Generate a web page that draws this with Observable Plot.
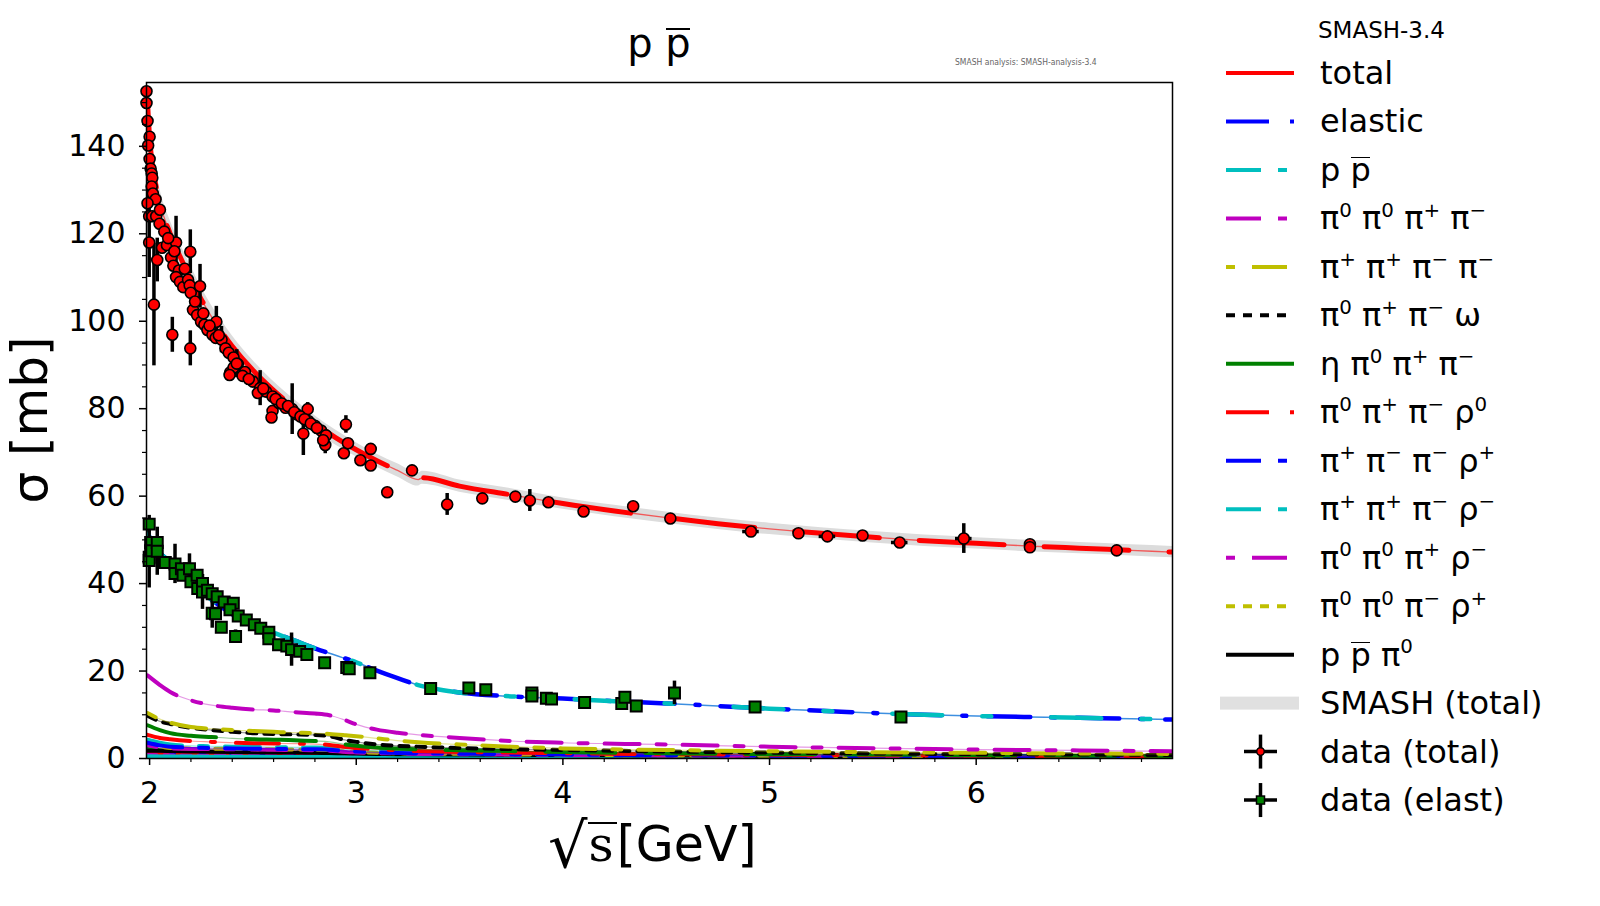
<!DOCTYPE html>
<html><head><meta charset="utf-8">
<script src="https://cdn.jsdelivr.net/npm/d3@7"></script>
<script src="https://cdn.jsdelivr.net/npm/@observablehq/plot@0.6"></script>
<style>
body{margin:0;background:#fff;font-family:"DejaVu Sans",sans-serif;}
#wrap{position:relative;width:1600px;height:906px;overflow:hidden;background:#fff}
#plot{position:absolute;left:0;top:0}
.abs{position:absolute;white-space:nowrap;color:#000;font-family:"DejaVu Sans",sans-serif}
sup{font-size:62%;vertical-align:0;position:relative;top:-0.62em;line-height:0}
.ov{position:relative}
.ov::before{content:"";position:absolute;left:0.02em;right:0.02em;top:0.2em;border-top:0.06em solid #000}
.leg{position:absolute;left:1320px;height:40px;line-height:40px;font-size:32px;white-space:nowrap}
</style></head><body><div id="wrap"><div id="plot"></div></div>
<script>
// ---------- tick values ----------
const xTicks = [2, 3, 4, 5, 6];
const xMinor = [2.2,2.4,2.6,2.8,3.2,3.4,3.6,3.8,4.2,4.4,4.6,4.8,5.2,5.4,5.6,5.8,6.2,6.4,6.6,6.8];
const yTicks = [0, 20, 40, 60, 80, 100, 120, 140];
const yMinor = [5,10,15,25,30,35,45,50,55,65,70,75,85,90,95,105,110,115,125,130,135,145,150];

// ---------- SMASH total cross section + band ----------
const totalX = [1.99,2.0,2.02,2.05,2.1,2.15,2.2,2.25,2.3,2.35,2.4,2.5,2.6,2.7,2.8,2.9,3.0,3.1,3.2,3.3,3.32,3.5,3.75,4.0,4.25,4.5,4.75,5.0,5.25,5.5,5.75,6.0,6.25,6.5,6.75,6.95];
const totalY = [150,142,134,127,120,114.5,109.5,105,101,97.5,94.3,88.8,84.2,80.2,76.6,73.4,70.6,68.1,65.9,63.8,64.2,62.3,60.3,58.3,56.6,55.1,53.7,52.5,51.5,50.6,49.8,49.2,48.6,48.1,47.6,47.2];
const totalBandHalf = [4,4,3.5,3.2,3,3,3,2.8,2.6,2.5,2.4,2.2,2,1.9,1.8,1.7,1.6,1.5,1.5,1.5,1.5,1.4,1.4,1.3,1.3,1.3,1.3,1.3,1.3,1.3,1.3,1.3,1.3,1.3,1.3,1.3];

// ---------- SMASH elastic (= p pbar channel) ----------
const elasticX = [1.99,2.0,2.05,2.1,2.2,2.3,2.4,2.5,2.6,2.7,2.8,2.9,3.0,3.1,3.2,3.3,3.4,3.5,3.75,4.0,4.25,4.5,4.75,5.0,5.25,5.5,5.75,6.0,6.25,6.5,6.75,6.95];
const elasticY = [52,50.5,47,45,40.6,36.3,33,30.7,28.8,27,25.2,23.6,22,20.1,18.4,16.8,15.8,15.1,14.2,13.7,13.1,12.6,12.0,11.4,10.9,10.4,10.0,9.7,9.5,9.3,9.1,8.9];

// ---------- SMASH exclusive channels ----------
const chanX = [1.99,2.05,2.1,2.2,2.3,2.4,2.5,2.6,2.7,2.8,2.87,2.95,3.0,3.1,3.2,3.3,3.5,3.75,4.0,4.5,5.0,5.5,6.0,6.5,6.95];
const pi0pi0pipPim   = [19,16.8,15.2,13.3,12.2,11.6,11.2,11.0,10.6,10.3,9.9,8.7,7.8,6.6,5.9,5.4,4.7,4.0,3.6,3.2,2.7,2.35,2.05,1.85,1.65];
const pipPipPimPim   = [10.4,9.0,8.2,7.2,6.8,6.5,6.3,6.1,5.9,5.8,5.6,5.3,5.1,4.6,4.1,3.7,3.2,2.7,2.3,1.95,1.65,1.45,1.3,1.15,1.05];
const pi0PipPimOmega = [9.8,8.5,7.9,7.0,6.5,6.1,5.8,5.6,5.5,5.4,5.1,4.2,3.8,3.2,2.9,2.7,2.4,2.15,1.95,1.6,1.35,1.15,1.0,0.9,0.8];
const etaPi0PipPim   = [7.6,6.5,5.8,5.2,4.9,4.6,4.4,4.3,4.2,4.0,3.8,3.2,2.9,2.5,2.3,2.1,1.9,1.7,1.5,1.2,1.0,0.9,0.75,0.65,0.6];
const pi0PipPimRho0  = [5.4,4.7,4.4,4.0,3.8,3.6,3.5,3.45,3.4,3.3,3.1,2.6,2.4,2.1,1.9,1.7,1.5,1.35,1.2,1.0,0.85,0.75,0.65,0.55,0.5];
const pipPimPimRhoP  = [3.6,3.0,2.7,2.5,2.4,2.3,2.25,2.2,2.15,2.1,2.0,1.7,1.6,1.4,1.25,1.15,1.1,1.0,0.9,0.75,0.65,0.55,0.5,0.45,0.4];
const pipPipPimRhoM  = [4.3,3.6,3.2,2.9,2.8,2.7,2.65,2.6,2.55,2.5,2.4,2.1,1.9,1.75,1.65,1.55,1.3,1.15,1.0,0.85,0.75,0.65,0.55,0.5,0.45];
const pi0Pi0PipRhoM  = [3.0,2.5,2.3,2.2,2.15,2.1,2.05,2.0,1.95,1.9,1.8,1.5,1.4,1.25,1.15,1.05,1.0,0.9,0.8,0.7,0.6,0.5,0.45,0.4,0.35];
const pi0Pi0PimRhoP  = [3.2,2.7,2.4,2.3,2.25,2.2,2.15,2.1,2.05,2.0,1.9,1.6,1.5,1.3,1.2,1.1,1.1,0.95,0.85,0.72,0.6,0.5,0.45,0.4,0.35];
const pPbarPi0       = [1.8,1.75,1.7,1.6,1.55,1.5,1.45,1.4,1.35,1.3,1.25,1.2,1.15,1.05,1.0,0.95,0.9,0.85,0.8,0.7,0.6,0.55,0.5,0.45,0.4];
// smaller channels not listed in the legend
const otherA = [2.2,1.9,1.8,1.7,1.6,1.55,1.5,1.45,1.4,1.35,1.3,1.1,1.0,0.9,0.85,0.8,0.75,0.7,0.65,0.55,0.5,0.45,0.4,0.35,0.3];
const otherB = [1.5,1.3,1.25,1.2,1.15,1.1,1.05,1.0,1.0,0.95,0.9,0.8,0.75,0.7,0.65,0.6,0.55,0.5,0.45,0.4,0.35,0.3,0.28,0.25,0.22];
const otherC = [1.1,1.0,0.95,0.9,0.85,0.8,0.8,0.75,0.75,0.7,0.7,0.6,0.55,0.5,0.48,0.45,0.42,0.4,0.36,0.32,0.28,0.25,0.22,0.2,0.18];
const otherD = [0.8,0.75,0.7,0.65,0.62,0.6,0.58,0.55,0.53,0.5,0.5,0.45,0.42,0.4,0.38,0.36,0.34,0.32,0.3,0.27,0.24,0.2,0.18,0.16,0.15];
const otherE = [0.5,0.48,0.46,0.44,0.42,0.4,0.38,0.37,0.36,0.35,0.34,0.3,0.28,0.26,0.25,0.24,0.22,0.2,0.19,0.17,0.15,0.13,0.12,0.11,0.1];

// ---------- experimental data: [sqrt(s), sigma, yerr, xerr] ----------
const dataTotal = [
 [1.985,152.6,1,0],[1.985,149.9,1,0],[1.99,145.8,1,0],[2.0,142.2,1,0],[1.993,140.2,1,0],[2.0,137.1,1,0],
 [2.005,134.9,1,0],[2.01,133.8,1,0],[2.013,132.8,1,0],[2.01,130.8,1,0],[2.016,129.2,1,0],[2.029,127.9,1,0],
 [1.99,127,4,0],[1.998,124,1,0],[2.013,124,1,0],[2.032,124,1,0],[2.048,122.3,1,0],[2.071,120.5,1,0],
 [1.998,118,8,0],[2.037,114,5,0],[2.021,103.8,14,0],[2.06,116.8,1,0],[2.084,117.4,1,0],[2.104,114.6,1,0],
 [2.115,112.7,1,0],[2.128,118,6,0],[2.142,111.6,1,0],[2.128,110.1,1,0],[2.147,109,1,0],[2.163,107.8,1,0],
 [2.186,109.5,1,0],[2.197,115.9,5,0],[2.194,108.2,1,0],[2.199,106.5,1,0],[2.244,108,5,0],[2.21,102.6,1,0],
 [2.23,101.4,1,0],[2.249,99.9,1,0],[2.265,99.2,1,0],[2.28,98,1,0],[2.323,99.9,3.5,0],[2.304,96.9,1,0],
 [2.32,96.2,1,0],[2.348,95.8,3,0],[2.11,96.9,4,0],[2.197,93.8,4,0],[2.367,93.8,1,0],[2.383,92.8,1,0],
 [2.406,91.7,1,0],[2.427,90.2,1,0],[2.39,88.3,1,0],[2.406,89.4,1,0],[2.05,125.5,1,0],[2.09,119,1,0],
 [2.12,116,1,0],[2.17,112,1,0],[2.22,104.5,1,0],[2.26,101.8,1,0],[2.29,99,1,0],[2.335,96.8,1,0],
 [2.387,87.7,1,0],[2.422,90.3,3.2,0],[2.461,88.4,1,0],[2.5,86.2,1,0],[2.535,84.7,4,0],[2.524,83.6,1,0],
 [2.564,83.9,1,0],[2.595,82.8,1,0],[2.595,79.5,1,0],[2.59,78,1,0],[2.626,81.3,1,0],[2.658,80.2,1,0],
 [2.69,79.9,5.8,0],[2.713,78.7,1,0],[2.744,74.3,5,0],[2.765,79.9,1.5,0],[2.768,77.2,1,0],[2.8,76.1,1,0],
 [2.83,75,1,0],[2.854,73.9,1,0],[2.85,71.7,2,0],[2.84,72.8,1,0],[2.45,87.5,1,0],[2.48,86.8,1,0],
 [2.55,84.6,1,0],[2.61,82.2,1,0],[2.64,81.2,1,0],[2.67,80.6,1,0],[2.7,79.2,1,0],[2.73,78.2,1,0],
 [2.75,77.6,1,0],[2.78,76.6,1,0],[2.81,75.6,1,0],
 [2.95,76.4,2,0],[2.94,69.8,1,0],[2.96,72.1,1,0],[3.02,68.2,1,0],[3.07,70.8,1,0],[3.07,67,1,0],
 [3.15,60.9,1,0],[3.27,65.9,1,0],[3.44,58.1,2.5,0],[3.61,59.5,1,0],[3.77,59.9,1,0],[3.84,59,2.5,0],
 [3.93,58.6,1,0],[4.10,56.5,1,0],[4.34,57.7,1,0],[4.52,54.9,1,0],[4.91,51.9,0.8,0.04],[5.14,51.5,1,0],
 [5.28,50.8,0.8,0.04],[5.45,51,1,0],[5.63,49.4,0.8,0.04],[5.94,50.3,3.4,0.04],[6.26,49,1,0],[6.26,48.3,1,0],
 [6.68,47.6,1,0]
];
const dataElastic = [
 [1.998,53.6,2],[1.998,46,7],[1.998,45.3,1],[2.005,49.4,1],[2.005,47.5,1],[2.037,49.4,1],[2.037,47.4,5.5],
 [2.076,44.8,1],[2.123,44.5,4.5],[2.123,42.3,1],[2.154,43.4,1],[2.162,41.9,1],[2.193,43.4,3.4],[2.2,40.4,1],
 [2.23,41.9,1],[2.233,38.9,1],[2.256,40,1],[2.256,38.1,4],[2.28,38.5,1],[2.303,37.7,1],[2.327,37,1],
 [2.361,35.8,1],[2.405,35.5,1],[2.303,33.2,3.4],[2.319,33.1,1],[2.347,30,1],[2.416,27.9,1.5],[2.389,34,1],
 [2.429,32.6,1],[2.468,31.7,1],[2.507,30.6,1],[2.538,29.8,1],[2.577,28.9,1],[2.577,27.4,1],[2.624,26,1],
 [2.664,25.7,1],[2.687,24.9,3.8],[2.726,24.5,1],[2.761,23.8,1],[2.847,21.9,1],[2.954,20.8,1],[2.966,20.5,1],
 [3.066,19.6,1],[3.36,16.0,1],[3.545,16.1,1],[3.627,15.7,1],[3.85,15,1],[3.85,14.3,1],[3.92,13.8,1],
 [3.945,13.6,1],[4.105,12.8,1],[4.285,12.6,1],[4.30,14.0,1],[4.355,12.0,1],[4.54,15,2.7],[4.93,11.8,1],
 [5.636,9.5,1]
];

// ---------- colours ----------
const RED = "#ff0000", BLUE = "#0000ff", CYAN = "#00bfbf", MAG = "#bf00bf", YEL = "#bfbf00", GRN = "#008000", BLK = "#000000";

const pts = (xs, ys) => xs.map((x, i) => ({x, y: ys[i]}));
const dashDot = "43,21,4,21", dashDotB = "35,17,9,17", dotDash = "9,17,35,17", dotted = "9,8";

const channels = [
  {ys: otherA, color: GRN, dash: "20,10"},
  {ys: otherB, color: BLUE, dash: null},
  {ys: otherC, color: RED, dash: "20,10"},
  {ys: otherD, color: MAG, dash: dotted},
  {ys: otherE, color: CYAN, dash: null},
  {ys: pPbarPi0, color: BLK, dash: null},
  {ys: pi0Pi0PimRhoP, color: YEL, dash: dotted},
  {ys: pi0Pi0PipRhoM, color: MAG, dash: dotDash},
  {ys: pipPipPimRhoM, color: CYAN, dash: dashDotB},
  {ys: pipPimPimRhoP, color: BLUE, dash: dashDotB},
  {ys: pi0PipPimRho0, color: RED, dash: dashDot},
  {ys: etaPi0PipPim, color: GRN, dash: "70,30"},
  {ys: pi0PipPimOmega, color: BLK, dash: dotted},
  {ys: pipPipPimPim, color: YEL, dash: dotDash},
  {ys: pi0pi0pipPim, color: MAG, dash: dashDotB}
];

const band = totalX.map((x, i) => ({x, lo: totalY[i] - totalBandHalf[i], hi: totalY[i] + totalBandHalf[i]}));

const chart = Plot.plot({
  width: 1200, height: 906,
  marginTop: 82, marginLeft: 146, marginRight: 28, marginBottom: 148,
  x: {domain: [1.985, 6.95]},
  y: {domain: [0, 154.6]},
  style: {fontFamily: "DejaVu Sans", fontSize: "30px", color: "black", background: "white"},
  marks: [
    Plot.areaY(band, {x: "x", y1: "lo", y2: "hi", fill: "#dcdcdc", curve: "monotone-x"}),
    ...channels.flatMap(c => [
      Plot.line(pts(chanX, c.ys), {x: "x", y: "y", stroke: c.color, strokeWidth: 1.2, strokeOpacity: 0.4, curve: "monotone-x", clip: true}),
      Plot.line(pts(chanX, c.ys), {x: "x", y: "y", stroke: c.color, strokeWidth: 4, strokeDasharray: c.dash || undefined, curve: "monotone-x", clip: true})
    ]),
    Plot.line(pts(elasticX, elasticY), {x: "x", y: "y", stroke: "#3d8fe0", strokeWidth: 1.5, curve: "monotone-x", clip: true}),
    Plot.line(pts(elasticX, elasticY), {x: "x", y: "y", stroke: BLUE, strokeWidth: 4.5, strokeDasharray: dashDot, curve: "monotone-x", clip: true}),
    Plot.line(pts(elasticX, elasticY), {x: "x", y: "y", stroke: CYAN, strokeWidth: 4.5, strokeDasharray: "50,40,9,60", curve: "monotone-x", clip: true}),
    Plot.line(pts(totalX, totalY), {x: "x", y: "y", stroke: RED, strokeWidth: 1.3, strokeOpacity: 0.6, curve: "monotone-x", clip: true}),
    Plot.line(pts(totalX, totalY), {x: "x", y: "y", stroke: RED, strokeWidth: 5, strokeDasharray: "85,40", curve: "monotone-x", clip: true}),
    Plot.ruleX(dataTotal, {x: d => d[0], y1: d => d[1] - d[2], y2: d => d[1] + d[2], stroke: "black", strokeWidth: 3.5, clip: true}),
    Plot.ruleY(dataTotal.filter(d => d[3] > 0), {y: d => d[1], x1: d => d[0] - d[3], x2: d => d[0] + d[3], stroke: "black", strokeWidth: 3.5}),
    Plot.ruleX(dataElastic, {x: d => d[0], y1: d => d[1] - d[2], y2: d => d[1] + d[2], stroke: "black", strokeWidth: 3.5, clip: true}),
    Plot.dot(dataTotal, {x: d => d[0], y: d => d[1], r: 5.5, fill: RED, stroke: "black", strokeWidth: 1.6}),
    Plot.dot(dataElastic, {x: d => d[0], y: d => d[1], r: 6.2, symbol: "square", fill: GRN, stroke: "black", strokeWidth: 2}),
    Plot.frame({stroke: "black", strokeWidth: 1.5}),
    Plot.axisX(xTicks, {tickSize: 7, tickPadding: 16, strokeWidth: 1.5, fontSize: 30, tickFormat: d => String(d), label: null}),
    Plot.axisX(xMinor, {tickSize: 4, strokeWidth: 1.2, tickFormat: () => "", label: null}),
    Plot.axisY(yTicks, {tickSize: 7, tickPadding: 14, strokeWidth: 1.5, fontSize: 30, tickFormat: d => String(d), label: null}),
    Plot.axisY(yMinor, {tickSize: 4, strokeWidth: 1.2, tickFormat: () => "", label: null})
  ]
});
const wrap = document.getElementById("wrap");
document.getElementById("plot").appendChild(chart);

// ---------- titles ----------
function addDiv(html, css) {
  const d = document.createElement("div");
  d.className = "abs";
  d.style.cssText = css;
  d.innerHTML = html;
  wrap.appendChild(d);
  return d;
}
addDiv('p <span class="ov">p</span>', "left:0;width:1318px;text-align:center;top:20px;font-size:40px;line-height:46px;");
addDiv('SMASH analysis: SMASH-analysis-3.4', "left:955px;top:57px;font-size:8.5px;color:#666;font-family:'DejaVu Sans Condensed','DejaVu Sans';");
addDiv('σ [mb]', "left:30px;top:420px;font-size:50px;transform:translate(-50%,-50%) rotate(-90deg);");
addDiv('<span style="font-size:62px;line-height:60px;position:relative;top:6px">√</span><span style="border-top:2.5px solid #000;font-family:\'DejaVu Serif\';padding:0 3px 0 1px;line-height:42px;display:inline-block">s</span><span>[GeV]</span>',
  "left:548px;top:810px;font-size:49px;line-height:62px;");

// ---------- legend ----------
addDiv('SMASH-3.4', "left:1318px;top:14px;font-size:23px;line-height:32px;");
const legendLabels = [
  'total', 'elastic', 'p <span class="ov">p</span>',
  'π<sup>0</sup> π<sup>0</sup> π<sup>+</sup> π<sup>−</sup>',
  'π<sup>+</sup> π<sup>+</sup> π<sup>−</sup> π<sup>−</sup>',
  'π<sup>0</sup> π<sup>+</sup> π<sup>−</sup> ω',
  'η π<sup>0</sup> π<sup>+</sup> π<sup>−</sup>',
  'π<sup>0</sup> π<sup>+</sup> π<sup>−</sup> ρ<sup>0</sup>',
  'π<sup>+</sup> π<sup>−</sup> π<sup>−</sup> ρ<sup>+</sup>',
  'π<sup>+</sup> π<sup>+</sup> π<sup>−</sup> ρ<sup>−</sup>',
  'π<sup>0</sup> π<sup>0</sup> π<sup>+</sup> ρ<sup>−</sup>',
  'π<sup>0</sup> π<sup>0</sup> π<sup>−</sup> ρ<sup>+</sup>',
  'p <span class="ov">p</span> π<sup>0</sup>',
  'SMASH (total)', 'data (total)', 'data (elast)'
];
const legendStyles = [
  {c: RED, d: null}, {c: BLUE, d: "43,21,4,21"}, {c: CYAN, d: dashDotB}, {c: MAG, d: dashDotB},
  {c: YEL, d: dotDash}, {c: BLK, d: dotted}, {c: GRN, d: null}, {c: RED, d: dashDot},
  {c: BLUE, d: dashDotB}, {c: CYAN, d: dashDotB}, {c: MAG, d: dotDash}, {c: YEL, d: dotted},
  {c: BLK, d: null}, {band: true}, {data: "total"}, {data: "elast"}
];
const ns = "http://www.w3.org/2000/svg";
const legSvg = document.createElementNS(ns, "svg");
legSvg.setAttribute("width", 1600); legSvg.setAttribute("height", 906);
legSvg.style.cssText = "position:absolute;left:0;top:0;pointer-events:none";
wrap.appendChild(legSvg);
function el(tag, attrs) { const e = document.createElementNS(ns, tag); for (const k in attrs) e.setAttribute(k, attrs[k]); legSvg.appendChild(e); return e; }
legendLabels.forEach((lab, i) => {
  const cy = 73 + i * 48.47;
  const d = document.createElement("div");
  d.className = "leg"; d.style.top = (cy - 20) + "px"; d.innerHTML = lab; wrap.appendChild(d);
  const s = legendStyles[i];
  if (s.band) {
    el("rect", {x: 1220, y: cy - 6.5, width: 79, height: 13, fill: "#e0e0e0"});
  } else if (s.data) {
    el("line", {x1: 1244, x2: 1277, y1: cy, y2: cy, stroke: "black", "stroke-width": 3.5});
    el("line", {x1: 1260.5, x2: 1260.5, y1: cy - 17, y2: cy + 17, stroke: "black", "stroke-width": 3.5});
    if (s.data === "total") el("circle", {cx: 1260.5, cy, r: 3.8, fill: RED, stroke: "black", "stroke-width": 1.5});
    else el("rect", {x: 1256.5, y: cy - 4, width: 8, height: 8, fill: GRN, stroke: "black", "stroke-width": 1.5});
  } else {
    const a = {x1: 1226, x2: 1294, y1: cy, y2: cy, stroke: s.c, "stroke-width": 4};
    if (s.d) a["stroke-dasharray"] = s.d;
    el("line", a);
  }
});
</script></body></html>
